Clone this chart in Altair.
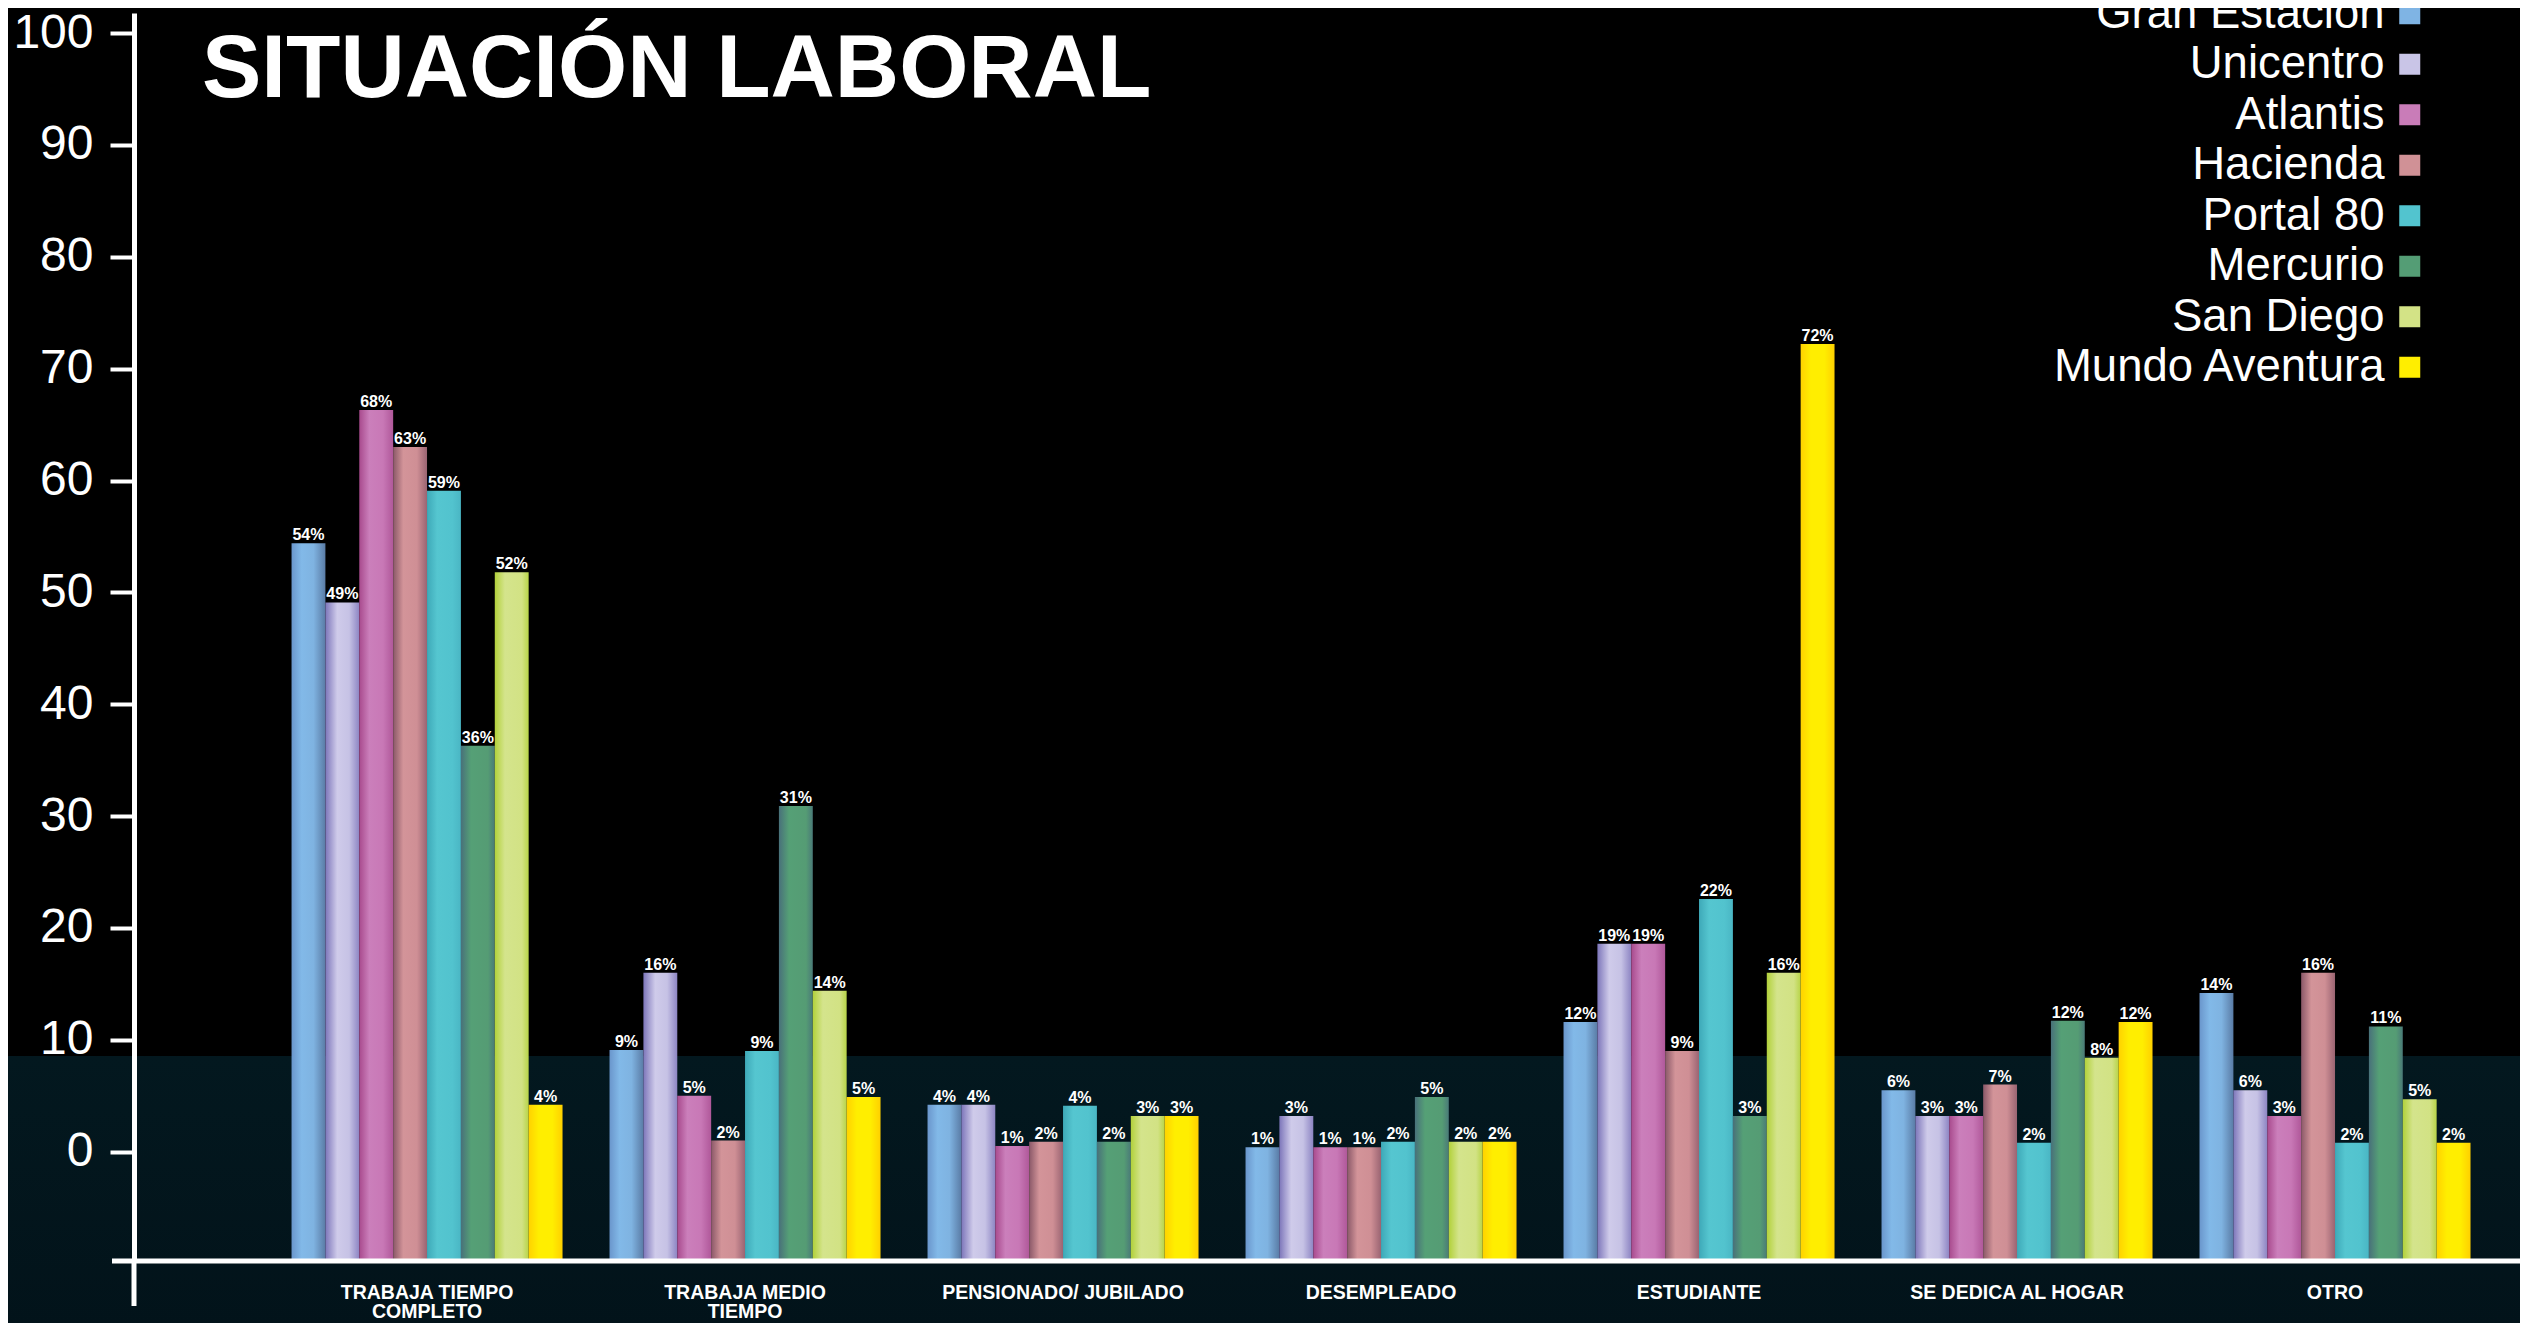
import altair as alt
import pandas as pd

TITLE = "SITUACIÓN LABORAL"
CATEGORIES = ["TRABAJA TIEMPO COMPLETO", "TRABAJA MEDIO TIEMPO", "PENSIONADO/ JUBILADO",
              "DESEMPLEADO", "ESTUDIANTE", "SE DEDICA AL HOGAR", "OTRO"]
SERIES = ["Gran Estación", "Unicentro", "Atlantis", "Hacienda", "Portal 80",
          "Mercurio", "San Diego", "Mundo Aventura"]

# bar heights as drawn
gran_estacion = [54.4, 9.1, 4.2, 0.4, 11.6, 5.5, 14.2]
unicentro = [49.1, 16.0, 4.2, 3.2, 18.6, 3.2, 5.5]
atlantis = [66.3, 5.0, 0.5, 0.4, 18.6, 3.2, 3.2]
hacienda = [63.0, 1.0, 0.9, 0.4, 9.0, 6.0, 16.0]
portal_80 = [59.1, 9.0, 4.1, 0.9, 22.6, 0.8, 0.8]
mercurio = [36.3, 30.9, 0.9, 4.9, 3.2, 11.7, 11.2]
san_diego = [51.8, 14.4, 3.2, 0.9, 16.0, 8.4, 4.7]
mundo_aventura = [4.2, 4.9, 3.2, 0.9, 72.2, 11.6, 0.8]

# printed labels (%)
lab_gran_estacion = [54, 9, 4, 1, 12, 6, 14]
lab_unicentro = [49, 16, 4, 3, 19, 3, 6]
lab_atlantis = [68, 5, 1, 1, 19, 3, 3]
lab_hacienda = [63, 2, 2, 1, 9, 7, 16]
lab_portal_80 = [59, 9, 4, 2, 22, 2, 2]
lab_mercurio = [36, 31, 2, 5, 3, 12, 11]
lab_san_diego = [52, 14, 3, 2, 16, 8, 5]
lab_mundo_aventura = [4, 5, 3, 2, 72, 12, 2]

Y_TICKS = list(range(0, 101, 10))

VALUES = [gran_estacion, unicentro, atlantis, hacienda, portal_80, mercurio, san_diego, mundo_aventura]
LABELS = [lab_gran_estacion, lab_unicentro, lab_atlantis, lab_hacienda, lab_portal_80,
          lab_mercurio, lab_san_diego, lab_mundo_aventura]

FLAT = ["#7fb4e4", "#c9c5e7", "#c97cb8", "#d09196", "#52c4cf", "#549d75", "#d3e386", "#ffee00"]
GRADS = [
    [("#6a96cc", 0), ("#82b9e8", 0.3), ("#7fb3e1", 0.65), ("#5a7ca6", 1)],
    [("#7d76ba", 0), ("#cfcbea", 0.35), ("#c6c2e5", 0.7), ("#8d85c3", 1)],
    [("#a84a8d", 0), ("#cb7fbb", 0.3), ("#c878b6", 0.7), ("#b0589a", 1)],
    [("#8a5868", 0), ("#d39499", 0.3), ("#cf8f95", 0.7), ("#9a6472", 1)],
    [("#3ea9b8", 0), ("#55c6d0", 0.3), ("#52c3ce", 0.75), ("#4ab6c4", 1)],
    [("#48707a", 0), ("#55a076", 0.3), ("#559c74", 0.8), ("#4a7a78", 1)],
    [("#b2d13a", 0), ("#d4e48c", 0.3), ("#d2e284", 0.8), ("#b8d448", 1)],
    [("#ffd200", 0), ("#ffee00", 0.3), ("#ffee00", 0.7), ("#ffd000", 1)],
]

rows = []
for s, vals, labs in zip(SERIES, VALUES, LABELS):
    for c, v, l in zip(CATEGORIES, vals, labs):
        rows.append({"cat": c, "serie": s, "valor": v, "etiqueta": f"{l}%"})
df = pd.DataFrame(rows)

W, H = 2386, 1248
Y_MIN, Y_MAX = -9.77, 101.8
FONT = "Liberation Sans, Arial, sans-serif"

x_enc = alt.X("cat:N", sort=CATEGORIES,
              scale=alt.Scale(paddingInner=0.1478, paddingOuter=0.3255, align=0.761),
              axis=alt.Axis(title=None, domain=False, ticks=False, tickSize=0, labelAngle=0,
                            labelFontSize=19.5, labelFontWeight="bold", labelColor="white",
                            labelFont=FONT, labelPadding=37, labelBaseline="alphabetic",
                            labelLineHeight=19, labelLimit=0, zindex=2,
                            labelExpr="split(replace(replace(datum.value, 'TIEMPO COMPLETO', 'TIEMPO|COMPLETO'), 'MEDIO TIEMPO', 'MEDIO|TIEMPO'), '|')"))
xo_enc = alt.XOffset("serie:N", scale=alt.Scale(domain=SERIES))
y_enc = alt.Y("valor:Q", scale=alt.Scale(domain=[Y_MIN, Y_MAX], nice=False, zero=False),
              axis=alt.Axis(title=None, values=Y_TICKS, grid=False, tickSize=24, tickWidth=4,
                            tickColor="white", domainColor="white", domainWidth=5,
                            labelFontSize=48, labelFont=FONT, labelColor="white",
                            labelPadding=17, labelBaseline="middle", zindex=2))

base = alt.Chart(df)

bg = alt.Chart(pd.DataFrame({"k": [0]})).mark_rect(
    color=alt.Gradient(gradient="linear", x1=0, x2=0, y1=0, y2=1,
                       stops=[alt.GradientStop(color="#03181f", offset=0),
                              alt.GradientStop(color="#021219", offset=0.8),
                              alt.GradientStop(color="#03161d", offset=1)])
).encode(
    x=alt.value(-200), x2=alt.value(W + 200),
    y=alt.datum(8.56), y2=alt.value(H + 200)
)

title = alt.Chart(pd.DataFrame({"t": [TITLE]})).mark_text(
    align="left", baseline="alphabetic", fontSize=89, font=FONT, fontWeight="bold", color="white"
).encode(x=alt.value(68), y=alt.value(84), text="t:N")

layers = [bg, title]
for s, stops in zip(SERIES, GRADS):
    grad = alt.Gradient(gradient="linear", x1=0, x2=1, y1=0, y2=0,
                        stops=[alt.GradientStop(color=c, offset=o) for c, o in stops])
    layers.append(
        base.transform_filter(alt.FieldEqualPredicate(field="serie", equal=s))
        .mark_bar(color=grad)
        .encode(x=x_enc, xOffset=xo_enc, y=y_enc, y2=alt.datum(Y_MIN))
    )

labels = base.mark_text(dy=-3, baseline="alphabetic", fontSize=16, fontWeight="bold",
                        color="white", font=FONT).encode(
    x=x_enc, xOffset=xo_enc, y=y_enc, text="etiqueta:N")

baseline = alt.Chart(pd.DataFrame({"k": [0]})).mark_rule(color="white", strokeWidth=5).encode(
    x=alt.value(-22), x2=alt.value(W + 20), y=alt.value(H))
axis_ext = alt.Chart(pd.DataFrame({"k": [0]})).mark_rule(color="white", strokeWidth=5).encode(
    x=alt.value(0), y=alt.value(H - 2), y2=alt.value(H + 45))

legend_layer = base.mark_square(opacity=0).encode(
    x=x_enc, xOffset=xo_enc, y=y_enc,
    color=alt.Color("serie:N", scale=alt.Scale(domain=SERIES, range=FLAT),
                    legend=alt.Legend(title=None, orient="none", legendX=2253, legendY=-22,
                                      symbolType="square", symbolSize=441, symbolOpacity=1,
                                      symbolStrokeWidth=0, labelFontSize=45.5, labelFont=FONT,
                                      labelColor="white", labelAlign="right",
                                      labelOffset={"expr": "-48"},
                                      labelLimit=0, rowPadding=3.5, padding=0))
)

layers += [labels, baseline, axis_ext, legend_layer]

chart = alt.layer(*layers).properties(
    width=W, height=H,
    autosize=alt.AutoSizeParams(type="none"),
    padding={"left": 126, "top": 5, "right": 0, "bottom": 62},
    background="black",
).configure_view(strokeWidth=0)

chart.save("out.html", embed_options={"renderer": "svg", "actions": False})
